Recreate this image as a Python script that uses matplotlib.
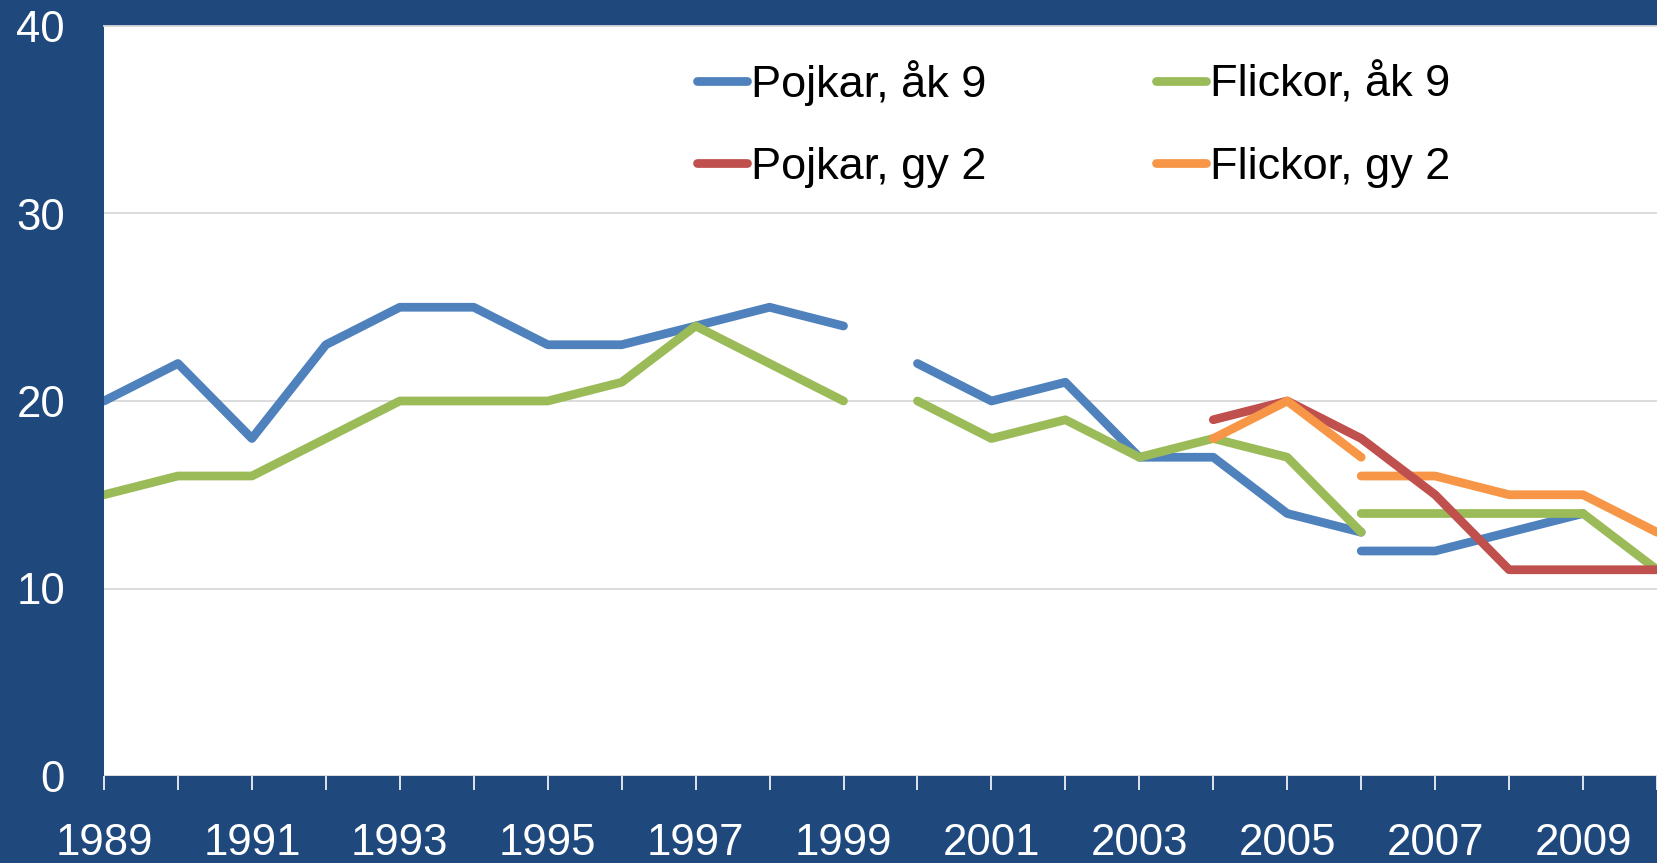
import matplotlib
matplotlib.use("Agg")
import matplotlib.pyplot as plt
from matplotlib.lines import Line2D

plt.rcParams['font.family'] = ['Liberation Sans', 'DejaVu Sans']

# Data, split where the series break
pojkar_ak9_x1 = list(range(1989, 2000))
pojkar_ak9_y1 = [20, 22, 18, 23, 25, 25, 23, 23, 24, 25, 24]
pojkar_ak9_x2 = list(range(2000, 2007))
pojkar_ak9_y2 = [22, 20, 21, 17, 17, 14, 13]
pojkar_ak9_x3 = list(range(2006, 2010))
pojkar_ak9_y3 = [12, 12, 13, 14]

flickor_ak9_x1 = list(range(1989, 2000))
flickor_ak9_y1 = [15, 16, 16, 18, 20, 20, 20, 21, 24, 22, 20]
flickor_ak9_x2 = list(range(2000, 2007))
flickor_ak9_y2 = [20, 18, 19, 17, 18, 17, 13]
flickor_ak9_x3 = list(range(2006, 2011))
flickor_ak9_y3 = [14, 14, 14, 14, 11]

pojkar_gy2_x = list(range(2004, 2011))
pojkar_gy2_y = [19, 20, 18, 15, 11, 11, 11]

flickor_gy2_x1 = list(range(2004, 2007))
flickor_gy2_y1 = [18, 20, 17]
flickor_gy2_x2 = list(range(2006, 2011))
flickor_gy2_y2 = [16, 16, 15, 15, 13]

years = list(range(1989, 2011))
year_labels = [str(y) if (y - 1989) % 2 == 0 else '' for y in years]

bg = '#1F497D'
c_blue = '#4F81BD'
c_green = '#9BBB59'
c_red = '#C0504D'
c_orange = '#F79646'

fig = plt.figure(figsize=(16.57, 8.63), dpi=100, facecolor=bg)
ax = fig.add_axes([104 / 1657, 1 - 776 / 863, 1 - 104 / 1657, (776 - 26) / 863])
ax.set_facecolor('white')

lw = 6.3
kw = dict(lw=lw, solid_capstyle='round', solid_joinstyle='round')
ax.plot(pojkar_ak9_x1, pojkar_ak9_y1, color=c_blue, zorder=3, **kw)
ax.plot(pojkar_ak9_x2, pojkar_ak9_y2, color=c_blue, zorder=3, **kw)
ax.plot(pojkar_ak9_x3, pojkar_ak9_y3, color=c_blue, zorder=3, **kw)
ax.plot(flickor_ak9_x1, flickor_ak9_y1, color=c_green, zorder=4, **kw)
ax.plot(flickor_ak9_x2, flickor_ak9_y2, color=c_green, zorder=4, **kw)
ax.plot(flickor_ak9_x3, flickor_ak9_y3, color=c_green, zorder=4, **kw)
ax.plot(flickor_gy2_x2, flickor_gy2_y2, color=c_orange, zorder=5, **kw)
ax.plot(pojkar_gy2_x, pojkar_gy2_y, color=c_red, zorder=6, **kw)
ax.plot(flickor_gy2_x1, flickor_gy2_y1, color=c_orange, zorder=7, **kw)

ax.set_xlim(1989, 1989 + (1657 - 104) / 74.45)
ax.set_ylim(0, 40)
ax.set_yticks([0, 10, 20, 30, 40])
ax.set_xticks(years)
ax.set_xticklabels(year_labels)

for s in ax.spines.values():
    s.set_visible(False)
ax.grid(axis='y', color='#D9D9D9', lw=1.3, zorder=1)
ax.set_axisbelow(True)
ax.axhline(40, color='#D9D9D9', lw=1.3, zorder=1, clip_on=False)

ax.tick_params(axis='x', direction='out', length=10, width=1.2, color='white',
               labelcolor='white', labelsize=31.5, pad=24)
ax.tick_params(axis='y', length=0, labelcolor='white', labelsize=31.5, pad=28)

handles = [
    Line2D([], [], color=c_blue, lw=lw, solid_capstyle='round'),
    Line2D([], [], color=c_red, lw=lw, solid_capstyle='round'),
    Line2D([], [], color=c_green, lw=lw, solid_capstyle='round'),
    Line2D([], [], color=c_orange, lw=lw, solid_capstyle='round'),
]
labels = ['Pojkar, åk 9', 'Pojkar, gy 2', 'Flickor, åk 9', 'Flickor, gy 2']
leg = ax.legend(handles, labels, ncol=2, frameon=False, fontsize=32.5,
                handlelength=1.1, handletextpad=0.1, columnspacing=3.75,
                labelspacing=0.9, loc='upper left',
                bbox_to_anchor=(679 / 1657, 1 - 42 / 863),
                bbox_transform=fig.transFigure, borderaxespad=0)

fig.savefig('out.png', dpi=100, facecolor=bg)
